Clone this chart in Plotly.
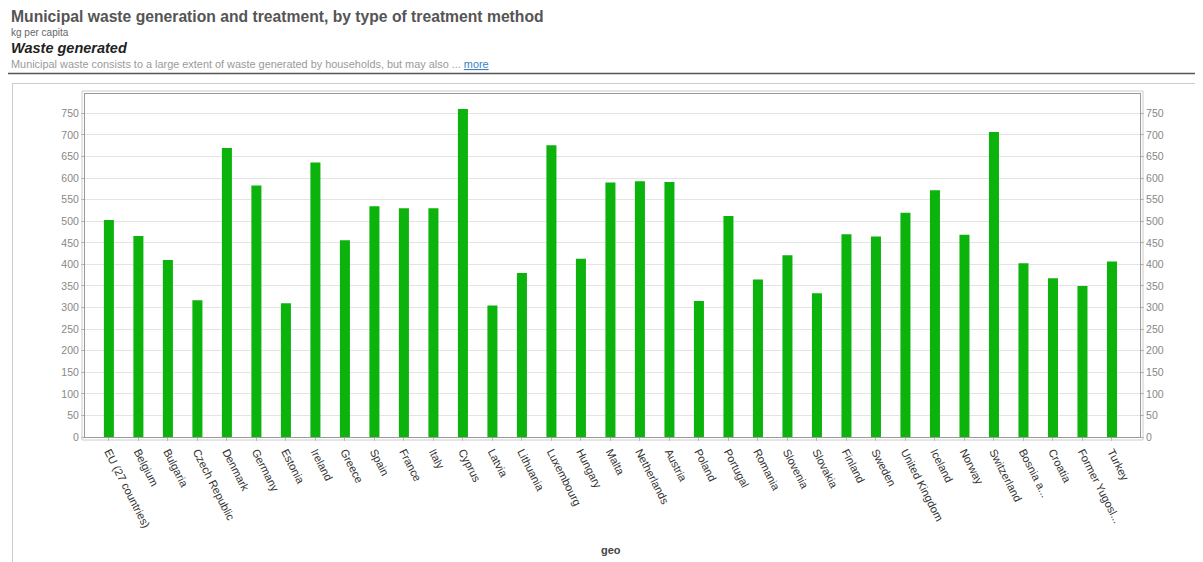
import plotly.graph_objects as go

countries = ["EU (27 countries)", "Belgium", "Bulgaria", "Czech Republic", "Denmark", "Germany",
             "Estonia", "Ireland", "Greece", "Spain", "France", "Italy", "Cyprus", "Latvia",
             "Lithuania", "Luxembourg", "Hungary", "Malta", "Netherlands", "Austria", "Poland",
             "Portugal", "Romania", "Slovenia", "Slovakia", "Finland", "Sweden", "United Kingdom",
             "Iceland", "Norway", "Switzerland", "Bosnia a...", "Croatia", "Former Yugosl...", "Turkey"]
waste_generated = [503, 466, 410, 317, 670, 583, 310, 636, 456, 535, 530, 530, 760, 305,
                   380, 676, 413, 590, 593, 591, 315, 512, 365, 421, 333, 470, 465, 520,
                   572, 469, 707, 403, 368, 350, 407]
y_ticks = list(range(0, 751, 50))

FONT = "Liberation Sans, Arial, sans-serif"
GREEN = "#0db30d"

# page body has an 8px margin: figure origin sits at (8, 8)
W, H = 1195, 554
L, T, PW, PH = 77, 86, 1055, 343
R = W - L - PW
B = H - T - PH


def px_x(page_x):
    return (page_x - 8 - L) / PW


def px_y(page_y):
    return 1 - (page_y - 8 - T) / PH


fig = go.Figure()
fig.add_trace(go.Bar(x=countries, y=waste_generated, marker=dict(color=GREEN, line=dict(width=0)),
                     width=0.34, showlegend=False))

axis_common = dict(range=[0, 795], tickvals=y_ticks, ticktext=[str(v) for v in y_ticks],
                   tickfont=dict(family=FONT, size=10.5, color="#888888"),
                   ticks="outside", ticklen=3, tickcolor="#aaaaaa", zeroline=False)

fig.update_layout(
    width=W, height=H,
    margin=dict(l=L, r=R, t=T, b=B),
    paper_bgcolor="white", plot_bgcolor="white",
    xaxis=dict(range=[-0.81, 34.95], tickangle=63,
               tickfont=dict(family=FONT, size=11.2, color="#333333"),
               ticks="outside", ticklen=3, tickcolor="#aaaaaa",
               showline=True, linecolor="#999999", linewidth=1, mirror=True,
               showgrid=False),
    yaxis=dict(**axis_common, showgrid=True, gridcolor="#e4e4e4", gridwidth=1,
               showline=True, linecolor="#999999", linewidth=1, mirror=True),
    yaxis2=dict(**axis_common, overlaying="y", side="right", showgrid=False, showline=False),
)

# Secondary axis needs an (invisible) trace to anchor it
fig.add_trace(go.Scatter(x=countries, y=waste_generated, yaxis="y2", mode="markers",
                         marker=dict(opacity=0), hoverinfo="skip", showlegend=False))

# x axis title
fig.add_annotation(xref="paper", yref="paper", x=px_x(611), y=px_y(550), xanchor="center", yanchor="middle",
                   text="<b>geo</b>", showarrow=False, font=dict(family=FONT, size=11, color="#444444"))

# header texts
fig.add_annotation(xref="paper", yref="paper", x=px_x(9), y=px_y(16), xanchor="left", yanchor="middle",
                   text="<b>Municipal waste generation and treatment, by type of treatment method</b>",
                   showarrow=False, font=dict(family=FONT, size=15.7, color="#555555"))
fig.add_annotation(xref="paper", yref="paper", x=px_x(9), y=px_y(32), xanchor="left", yanchor="middle",
                   text="kg per capita", showarrow=False, font=dict(family=FONT, size=10, color="#666666"))
fig.add_annotation(xref="paper", yref="paper", x=px_x(9), y=px_y(48), xanchor="left", yanchor="middle",
                   text="<b><i>Waste generated</i></b>", showarrow=False,
                   font=dict(family=FONT, size=14.5, color="#222222"))
fig.add_annotation(xref="paper", yref="paper", x=px_x(9), y=px_y(64), xanchor="left", yanchor="middle",
                   text="Municipal waste consists to a large extent of waste generated by households, but may also ... "
                        "<span style='color:#3b7fc4'><u>more</u></span>",
                   showarrow=False, font=dict(family=FONT, size=10.9, color="#9a9a9a"))

# header separator line and outer panel border
fig.add_shape(type="line", xref="paper", yref="paper", x0=px_x(8), x1=px_x(1203),
              y0=px_y(73.5), y1=px_y(73.5), line=dict(color="#555555", width=1.5))
fig.add_shape(type="line", xref="paper", yref="paper", x0=px_x(12), x1=px_x(1203),
              y0=px_y(83.5), y1=px_y(83.5), line=dict(color="#cccccc", width=1))
fig.add_shape(type="line", xref="paper", yref="paper", x0=px_x(12.5), x1=px_x(12.5),
              y0=px_y(83.5), y1=px_y(562), line=dict(color="#cccccc", width=1))
# inner double frame
fig.add_shape(type="rect", xref="paper", yref="paper", x0=-3 / PW, x1=1 + 3 / PW,
              y0=-3 / PH, y1=1 + 3 / PH, line=dict(color="#cccccc", width=1))

fig.write_html("out.html")
